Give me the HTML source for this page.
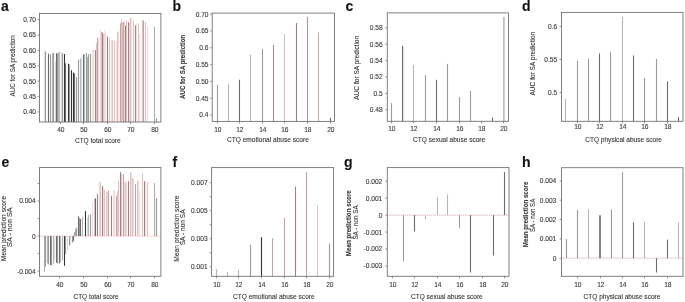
<!DOCTYPE html>
<html><head><meta charset="utf-8"><title>Figure</title>
<style>
html,body{margin:0;padding:0;background:#fff;}
body{width:685px;height:302px;overflow:hidden;}
svg{display:block;will-change:transform;}
text{font-family:"Liberation Sans",sans-serif;stroke:#3a3a3a;stroke-width:0.12px;}
</style></head>
<body>
<svg xmlns="http://www.w3.org/2000/svg" width="685" height="302" viewBox="0 0 685 302">
<rect x="0" y="0" width="685" height="302" fill="#fff"/>
<g>
<text x="0.90" y="11.00" text-anchor="start" font-size="14.0" font-weight="bold" fill="#111">a</text>
<text x="172.60" y="10.90" text-anchor="start" font-size="14.0" font-weight="bold" fill="#111">b</text>
<text x="345.60" y="11.20" text-anchor="start" font-size="14.0" font-weight="bold" fill="#111">c</text>
<text x="521.90" y="11.00" text-anchor="start" font-size="14.0" font-weight="bold" fill="#111">d</text>
<text x="1.60" y="166.70" text-anchor="start" font-size="14.0" font-weight="bold" fill="#111">e</text>
<text x="172.60" y="166.70" text-anchor="start" font-size="14.0" font-weight="bold" fill="#111">f</text>
<text x="344.00" y="167.00" text-anchor="start" font-size="14.0" font-weight="bold" fill="#111">g</text>
<text x="521.90" y="166.70" text-anchor="start" font-size="14.0" font-weight="bold" fill="#111">h</text>
<line x1="44.50" y1="122.00" x2="44.50" y2="49.00" stroke="#f2dcdc" stroke-width="1.1"/>
<line x1="45.50" y1="122.00" x2="45.50" y2="51.50" stroke="#9a9a9a" stroke-width="1.1"/>
<line x1="48.50" y1="122.00" x2="48.50" y2="53.70" stroke="#6a6a6a" stroke-width="1.1"/>
<line x1="50.50" y1="122.00" x2="50.50" y2="54.30" stroke="#9a9a9a" stroke-width="1.1"/>
<line x1="52.50" y1="122.00" x2="52.50" y2="53.30" stroke="#b6b6b6" stroke-width="1.1"/>
<line x1="53.50" y1="122.00" x2="53.50" y2="52.90" stroke="#9a9a9a" stroke-width="1.1"/>
<line x1="55.50" y1="122.00" x2="55.50" y2="61.90" stroke="#dcdcdc" stroke-width="1.1"/>
<line x1="56.50" y1="122.00" x2="56.50" y2="53.00" stroke="#6a6a6a" stroke-width="1.1"/>
<line x1="57.50" y1="122.00" x2="57.50" y2="54.00" stroke="#9a9a9a" stroke-width="1.1"/>
<line x1="58.50" y1="122.00" x2="58.50" y2="52.50" stroke="#b6b6b6" stroke-width="1.1"/>
<line x1="59.50" y1="122.00" x2="59.50" y2="51.70" stroke="#b6b6b6" stroke-width="1.1"/>
<line x1="61.50" y1="122.00" x2="61.50" y2="52.20" stroke="#dcdcdc" stroke-width="1.1"/>
<line x1="62.50" y1="122.00" x2="62.50" y2="53.30" stroke="#9a9a9a" stroke-width="1.1"/>
<line x1="64.50" y1="122.00" x2="64.50" y2="54.00" stroke="#353535" stroke-width="1.1"/>
<line x1="65.50" y1="122.00" x2="65.50" y2="63.20" stroke="#6a6a6a" stroke-width="1.1"/>
<line x1="68.50" y1="122.00" x2="68.50" y2="63.80" stroke="#353535" stroke-width="1.1"/>
<line x1="69.50" y1="122.00" x2="69.50" y2="64.50" stroke="#9a9a9a" stroke-width="1.1"/>
<line x1="71.50" y1="122.00" x2="71.50" y2="70.20" stroke="#353535" stroke-width="1.1"/>
<line x1="73.50" y1="122.00" x2="73.50" y2="72.50" stroke="#353535" stroke-width="1.1"/>
<line x1="74.50" y1="122.00" x2="74.50" y2="73.50" stroke="#6a6a6a" stroke-width="1.1"/>
<line x1="76.50" y1="122.00" x2="76.50" y2="77.10" stroke="#9a9a9a" stroke-width="1.1"/>
<line x1="78.50" y1="122.00" x2="78.50" y2="59.90" stroke="#9a9a9a" stroke-width="1.1"/>
<line x1="80.50" y1="122.00" x2="80.50" y2="58.50" stroke="#b6b6b6" stroke-width="1.1"/>
<line x1="81.50" y1="122.00" x2="81.50" y2="57.20" stroke="#dcdcdc" stroke-width="1.1"/>
<line x1="83.50" y1="122.00" x2="83.50" y2="54.60" stroke="#6a6a6a" stroke-width="1.1"/>
<line x1="84.50" y1="122.00" x2="84.50" y2="53.90" stroke="#b6b6b6" stroke-width="1.1"/>
<line x1="86.50" y1="122.00" x2="86.50" y2="53.00" stroke="#9a9a9a" stroke-width="1.1"/>
<line x1="87.50" y1="122.00" x2="87.50" y2="57.00" stroke="#b6b6b6" stroke-width="1.1"/>
<line x1="88.50" y1="122.00" x2="88.50" y2="54.30" stroke="#9a9a9a" stroke-width="1.1"/>
<line x1="90.50" y1="122.00" x2="90.50" y2="53.90" stroke="#9a9a9a" stroke-width="1.1"/>
<line x1="92.50" y1="122.00" x2="92.50" y2="49.10" stroke="#f2dcdc" stroke-width="1.1"/>
<line x1="93.50" y1="122.00" x2="93.50" y2="49.80" stroke="#f2dcdc" stroke-width="1.1"/>
<line x1="95.50" y1="122.00" x2="95.50" y2="49.90" stroke="#9e8282" stroke-width="1.1"/>
<line x1="96.50" y1="122.00" x2="96.50" y2="43.10" stroke="#e2c2c2" stroke-width="1.1"/>
<line x1="97.50" y1="122.00" x2="97.50" y2="37.60" stroke="#c6a2a2" stroke-width="1.1"/>
<line x1="98.50" y1="122.00" x2="98.50" y2="39.20" stroke="#f2dcdc" stroke-width="1.1"/>
<line x1="100.50" y1="122.00" x2="100.50" y2="29.20" stroke="#f2dcdc" stroke-width="1.1"/>
<line x1="101.50" y1="122.00" x2="101.50" y2="31.90" stroke="#e2c2c2" stroke-width="1.1"/>
<line x1="102.50" y1="122.00" x2="102.50" y2="32.50" stroke="#9e8282" stroke-width="1.1"/>
<line x1="103.50" y1="122.00" x2="103.50" y2="33.90" stroke="#e2c2c2" stroke-width="1.1"/>
<line x1="104.50" y1="122.00" x2="104.50" y2="29.90" stroke="#f2dcdc" stroke-width="1.1"/>
<line x1="105.50" y1="122.00" x2="105.50" y2="32.30" stroke="#f2dcdc" stroke-width="1.1"/>
<line x1="107.50" y1="122.00" x2="107.50" y2="36.50" stroke="#9e8282" stroke-width="1.1"/>
<line x1="109.50" y1="122.00" x2="109.50" y2="37.60" stroke="#e2c2c2" stroke-width="1.1"/>
<line x1="111.50" y1="122.00" x2="111.50" y2="39.80" stroke="#f2dcdc" stroke-width="1.1"/>
<line x1="112.50" y1="122.00" x2="112.50" y2="40.20" stroke="#e2c2c2" stroke-width="1.1"/>
<line x1="114.50" y1="122.00" x2="114.50" y2="40.50" stroke="#e2c2c2" stroke-width="1.1"/>
<line x1="116.50" y1="122.00" x2="116.50" y2="41.20" stroke="#f2dcdc" stroke-width="1.1"/>
<line x1="117.50" y1="122.00" x2="117.50" y2="31.90" stroke="#e2c2c2" stroke-width="1.1"/>
<line x1="118.50" y1="122.00" x2="118.50" y2="31.20" stroke="#f2dcdc" stroke-width="1.1"/>
<line x1="120.50" y1="122.00" x2="120.50" y2="23.30" stroke="#c6a2a2" stroke-width="1.1"/>
<line x1="121.50" y1="122.00" x2="121.50" y2="19.30" stroke="#e2c2c2" stroke-width="1.1"/>
<line x1="122.50" y1="122.00" x2="122.50" y2="22.00" stroke="#e2c2c2" stroke-width="1.1"/>
<line x1="123.50" y1="122.00" x2="123.50" y2="22.00" stroke="#c6a2a2" stroke-width="1.1"/>
<line x1="124.50" y1="122.00" x2="124.50" y2="20.00" stroke="#f2dcdc" stroke-width="1.1"/>
<line x1="125.50" y1="122.00" x2="125.50" y2="25.50" stroke="#9e8282" stroke-width="1.1"/>
<line x1="126.50" y1="122.00" x2="126.50" y2="20.60" stroke="#e2c2c2" stroke-width="1.1"/>
<line x1="128.50" y1="122.00" x2="128.50" y2="22.20" stroke="#9e8282" stroke-width="1.1"/>
<line x1="129.50" y1="122.00" x2="129.50" y2="22.00" stroke="#f2dcdc" stroke-width="1.1"/>
<line x1="130.50" y1="122.00" x2="130.50" y2="17.70" stroke="#e2c2c2" stroke-width="1.1"/>
<line x1="131.50" y1="122.00" x2="131.50" y2="18.60" stroke="#f2dcdc" stroke-width="1.1"/>
<line x1="133.50" y1="122.00" x2="133.50" y2="20.40" stroke="#e2c2c2" stroke-width="1.1"/>
<line x1="135.50" y1="122.00" x2="135.50" y2="25.30" stroke="#9e8282" stroke-width="1.1"/>
<line x1="136.50" y1="122.00" x2="136.50" y2="23.30" stroke="#f2dcdc" stroke-width="1.1"/>
<line x1="138.50" y1="122.00" x2="138.50" y2="23.50" stroke="#e2c2c2" stroke-width="1.1"/>
<line x1="139.50" y1="122.00" x2="139.50" y2="33.90" stroke="#f2dcdc" stroke-width="1.1"/>
<line x1="142.50" y1="122.00" x2="142.50" y2="20.00" stroke="#e2c2c2" stroke-width="1.1"/>
<line x1="143.50" y1="122.00" x2="143.50" y2="20.60" stroke="#b8a8a8" stroke-width="1.1"/>
<line x1="145.50" y1="122.00" x2="145.50" y2="22.00" stroke="#e2c2c2" stroke-width="1.1"/>
<line x1="147.50" y1="122.00" x2="147.50" y2="26.60" stroke="#f2dcdc" stroke-width="1.1"/>
<line x1="154.50" y1="122.00" x2="154.50" y2="26.60" stroke="#b8a8a8" stroke-width="1.1"/>
<line x1="156.50" y1="122.00" x2="156.50" y2="118.00" stroke="#9a9a9a" stroke-width="1.1"/>
<rect x="39.50" y="13.45" width="121.40" height="108.55" fill="none" stroke="#727272" stroke-width="0.9"/>
<line x1="37.60" y1="112.00" x2="39.50" y2="112.00" stroke="#727272" stroke-width="0.8"/>
<text x="36.00" y="114.45" text-anchor="end" font-size="7.1" font-weight="normal" fill="#3a3a3a" textLength="12.84" lengthAdjust="spacingAndGlyphs">0.40</text>
<line x1="37.60" y1="96.60" x2="39.50" y2="96.60" stroke="#727272" stroke-width="0.8"/>
<text x="36.00" y="99.05" text-anchor="end" font-size="7.1" font-weight="normal" fill="#3a3a3a" textLength="12.84" lengthAdjust="spacingAndGlyphs">0.45</text>
<line x1="37.60" y1="81.20" x2="39.50" y2="81.20" stroke="#727272" stroke-width="0.8"/>
<text x="36.00" y="83.65" text-anchor="end" font-size="7.1" font-weight="normal" fill="#3a3a3a" textLength="12.84" lengthAdjust="spacingAndGlyphs">0.50</text>
<line x1="37.60" y1="65.80" x2="39.50" y2="65.80" stroke="#727272" stroke-width="0.8"/>
<text x="36.00" y="68.25" text-anchor="end" font-size="7.1" font-weight="normal" fill="#3a3a3a" textLength="12.84" lengthAdjust="spacingAndGlyphs">0.55</text>
<line x1="37.60" y1="50.40" x2="39.50" y2="50.40" stroke="#727272" stroke-width="0.8"/>
<text x="36.00" y="52.85" text-anchor="end" font-size="7.1" font-weight="normal" fill="#3a3a3a" textLength="12.84" lengthAdjust="spacingAndGlyphs">0.60</text>
<line x1="37.60" y1="35.00" x2="39.50" y2="35.00" stroke="#727272" stroke-width="0.8"/>
<text x="36.00" y="37.45" text-anchor="end" font-size="7.1" font-weight="normal" fill="#3a3a3a" textLength="12.84" lengthAdjust="spacingAndGlyphs">0.65</text>
<line x1="37.60" y1="19.60" x2="39.50" y2="19.60" stroke="#727272" stroke-width="0.8"/>
<text x="36.00" y="22.05" text-anchor="end" font-size="7.1" font-weight="normal" fill="#3a3a3a" textLength="12.84" lengthAdjust="spacingAndGlyphs">0.70</text>
<line x1="60.50" y1="122.00" x2="60.50" y2="124.00" stroke="#727272" stroke-width="0.8"/>
<text x="60.80" y="132.10" text-anchor="middle" font-size="7.1" font-weight="normal" fill="#3a3a3a" textLength="7.34" lengthAdjust="spacingAndGlyphs">40</text>
<line x1="83.50" y1="122.00" x2="83.50" y2="124.00" stroke="#727272" stroke-width="0.8"/>
<text x="83.80" y="132.10" text-anchor="middle" font-size="7.1" font-weight="normal" fill="#3a3a3a" textLength="7.34" lengthAdjust="spacingAndGlyphs">50</text>
<line x1="107.50" y1="122.00" x2="107.50" y2="124.00" stroke="#727272" stroke-width="0.8"/>
<text x="107.80" y="132.10" text-anchor="middle" font-size="7.1" font-weight="normal" fill="#3a3a3a" textLength="7.34" lengthAdjust="spacingAndGlyphs">60</text>
<line x1="130.50" y1="122.00" x2="130.50" y2="124.00" stroke="#727272" stroke-width="0.8"/>
<text x="130.80" y="132.10" text-anchor="middle" font-size="7.1" font-weight="normal" fill="#3a3a3a" textLength="7.34" lengthAdjust="spacingAndGlyphs">70</text>
<line x1="154.50" y1="122.00" x2="154.50" y2="124.00" stroke="#727272" stroke-width="0.8"/>
<text x="154.80" y="132.10" text-anchor="middle" font-size="7.1" font-weight="normal" fill="#3a3a3a" textLength="7.34" lengthAdjust="spacingAndGlyphs">80</text>
<text x="97.80" y="143.00" text-anchor="middle" font-size="6.6" font-weight="normal" fill="#3a3a3a" textLength="45.8" lengthAdjust="spacingAndGlyphs">CTQ total score</text>
<text x="14.70" y="65.85" text-anchor="middle" font-size="6.6" font-weight="normal" fill="#3a3a3a" transform="rotate(-90 14.70 65.85)" textLength="61.3" lengthAdjust="spacingAndGlyphs">AUC for SA prediction</text>
<line x1="217.50" y1="121.40" x2="217.50" y2="85.00" stroke="#9a9a9a" stroke-width="1.1"/>
<line x1="228.50" y1="121.40" x2="228.50" y2="83.80" stroke="#b6b6b6" stroke-width="1.1"/>
<line x1="239.50" y1="121.40" x2="239.50" y2="79.70" stroke="#6a6a6a" stroke-width="1.1"/>
<line x1="250.50" y1="121.40" x2="250.50" y2="54.50" stroke="#b6b6b6" stroke-width="1.1"/>
<line x1="262.50" y1="121.40" x2="262.50" y2="49.00" stroke="#9a9a9a" stroke-width="1.1"/>
<line x1="273.50" y1="121.40" x2="273.50" y2="44.80" stroke="#a88c8c" stroke-width="1.1"/>
<line x1="284.50" y1="121.40" x2="284.50" y2="34.00" stroke="#d4c0bc" stroke-width="1.1"/>
<line x1="296.50" y1="121.40" x2="296.50" y2="23.00" stroke="#9a7e80" stroke-width="1.1"/>
<line x1="307.50" y1="121.40" x2="307.50" y2="17.00" stroke="#b89494" stroke-width="1.1"/>
<line x1="318.50" y1="121.40" x2="318.50" y2="32.30" stroke="#c4aaaa" stroke-width="1.1"/>
<line x1="330.50" y1="121.40" x2="330.50" y2="117.80" stroke="#6a6a6a" stroke-width="1.1"/>
<rect x="212.20" y="13.10" width="122.30" height="108.30" fill="none" stroke="#727272" stroke-width="0.9"/>
<line x1="210.30" y1="115.00" x2="212.20" y2="115.00" stroke="#727272" stroke-width="0.8"/>
<text x="208.50" y="117.45" text-anchor="end" font-size="7.1" font-weight="normal" fill="#3a3a3a" textLength="9.17" lengthAdjust="spacingAndGlyphs">0.4</text>
<line x1="210.30" y1="98.20" x2="212.20" y2="98.20" stroke="#727272" stroke-width="0.8"/>
<text x="208.50" y="100.65" text-anchor="end" font-size="7.1" font-weight="normal" fill="#3a3a3a" textLength="12.84" lengthAdjust="spacingAndGlyphs">0.45</text>
<line x1="210.30" y1="81.40" x2="212.20" y2="81.40" stroke="#727272" stroke-width="0.8"/>
<text x="208.50" y="83.85" text-anchor="end" font-size="7.1" font-weight="normal" fill="#3a3a3a" textLength="12.84" lengthAdjust="spacingAndGlyphs">0.50</text>
<line x1="210.30" y1="64.60" x2="212.20" y2="64.60" stroke="#727272" stroke-width="0.8"/>
<text x="208.50" y="67.05" text-anchor="end" font-size="7.1" font-weight="normal" fill="#3a3a3a" textLength="12.84" lengthAdjust="spacingAndGlyphs">0.55</text>
<line x1="210.30" y1="47.80" x2="212.20" y2="47.80" stroke="#727272" stroke-width="0.8"/>
<text x="208.50" y="50.25" text-anchor="end" font-size="7.1" font-weight="normal" fill="#3a3a3a" textLength="9.17" lengthAdjust="spacingAndGlyphs">0.6</text>
<line x1="210.30" y1="31.00" x2="212.20" y2="31.00" stroke="#727272" stroke-width="0.8"/>
<text x="208.50" y="33.45" text-anchor="end" font-size="7.1" font-weight="normal" fill="#3a3a3a" textLength="12.84" lengthAdjust="spacingAndGlyphs">0.65</text>
<line x1="210.30" y1="14.20" x2="212.20" y2="14.20" stroke="#727272" stroke-width="0.8"/>
<text x="208.50" y="16.65" text-anchor="end" font-size="7.1" font-weight="normal" fill="#3a3a3a" textLength="12.84" lengthAdjust="spacingAndGlyphs">0.70</text>
<line x1="217.50" y1="121.40" x2="217.50" y2="123.40" stroke="#727272" stroke-width="0.8"/>
<text x="217.80" y="131.50" text-anchor="middle" font-size="7.1" font-weight="normal" fill="#3a3a3a" textLength="7.34" lengthAdjust="spacingAndGlyphs">10</text>
<line x1="239.50" y1="121.40" x2="239.50" y2="123.40" stroke="#727272" stroke-width="0.8"/>
<text x="239.80" y="131.50" text-anchor="middle" font-size="7.1" font-weight="normal" fill="#3a3a3a" textLength="7.34" lengthAdjust="spacingAndGlyphs">12</text>
<line x1="262.50" y1="121.40" x2="262.50" y2="123.40" stroke="#727272" stroke-width="0.8"/>
<text x="262.80" y="131.50" text-anchor="middle" font-size="7.1" font-weight="normal" fill="#3a3a3a" textLength="7.34" lengthAdjust="spacingAndGlyphs">14</text>
<line x1="284.50" y1="121.40" x2="284.50" y2="123.40" stroke="#727272" stroke-width="0.8"/>
<text x="284.80" y="131.50" text-anchor="middle" font-size="7.1" font-weight="normal" fill="#3a3a3a" textLength="7.34" lengthAdjust="spacingAndGlyphs">16</text>
<line x1="307.50" y1="121.40" x2="307.50" y2="123.40" stroke="#727272" stroke-width="0.8"/>
<text x="307.80" y="131.50" text-anchor="middle" font-size="7.1" font-weight="normal" fill="#3a3a3a" textLength="7.34" lengthAdjust="spacingAndGlyphs">18</text>
<line x1="330.50" y1="121.40" x2="330.50" y2="123.40" stroke="#727272" stroke-width="0.8"/>
<text x="330.80" y="131.50" text-anchor="middle" font-size="7.1" font-weight="normal" fill="#3a3a3a" textLength="7.34" lengthAdjust="spacingAndGlyphs">20</text>
<text x="267.90" y="142.40" text-anchor="middle" font-size="6.6" font-weight="normal" fill="#3a3a3a" textLength="81.80000000000001" lengthAdjust="spacingAndGlyphs">CTQ emotional abuse score</text>
<text x="185.30" y="66.85" text-anchor="middle" font-size="6.6" font-weight="bold" fill="#3a3a3a" transform="rotate(-90 185.30 66.85)" textLength="64.10000000000001" lengthAdjust="spacingAndGlyphs">AUC for SA prediction</text>
<line x1="391.50" y1="121.30" x2="391.50" y2="103.10" stroke="#9a9a9a" stroke-width="1.1"/>
<line x1="402.60" y1="121.30" x2="402.60" y2="46.00" stroke="#6a6a6a" stroke-width="1.2"/>
<line x1="413.50" y1="121.30" x2="413.50" y2="64.90" stroke="#b6b6b6" stroke-width="1.1"/>
<line x1="425.50" y1="121.30" x2="425.50" y2="75.20" stroke="#9a9a9a" stroke-width="1.1"/>
<line x1="436.50" y1="121.30" x2="436.50" y2="79.80" stroke="#6a6a6a" stroke-width="1.1"/>
<line x1="447.50" y1="121.30" x2="447.50" y2="63.90" stroke="#9a9a9a" stroke-width="1.1"/>
<line x1="459.50" y1="121.30" x2="459.50" y2="97.10" stroke="#9a9a9a" stroke-width="1.1"/>
<line x1="470.50" y1="121.30" x2="470.50" y2="90.80" stroke="#9a9a9a" stroke-width="1.1"/>
<line x1="492.50" y1="121.30" x2="492.50" y2="117.50" stroke="#6a6a6a" stroke-width="1.1"/>
<line x1="503.90" y1="121.30" x2="503.90" y2="17.00" stroke="#b6b6b6" stroke-width="1.6"/>
<rect x="387.30" y="12.90" width="121.20" height="108.40" fill="none" stroke="#727272" stroke-width="0.9"/>
<line x1="385.40" y1="109.80" x2="387.30" y2="109.80" stroke="#727272" stroke-width="0.8"/>
<text x="382.70" y="112.25" text-anchor="end" font-size="7.1" font-weight="normal" fill="#3a3a3a" textLength="12.84" lengthAdjust="spacingAndGlyphs">0.48</text>
<line x1="385.40" y1="93.40" x2="387.30" y2="93.40" stroke="#727272" stroke-width="0.8"/>
<text x="382.70" y="95.85" text-anchor="end" font-size="7.1" font-weight="normal" fill="#3a3a3a" textLength="9.17" lengthAdjust="spacingAndGlyphs">0.5</text>
<line x1="385.40" y1="77.00" x2="387.30" y2="77.00" stroke="#727272" stroke-width="0.8"/>
<text x="382.70" y="79.45" text-anchor="end" font-size="7.1" font-weight="normal" fill="#3a3a3a" textLength="12.84" lengthAdjust="spacingAndGlyphs">0.52</text>
<line x1="385.40" y1="60.60" x2="387.30" y2="60.60" stroke="#727272" stroke-width="0.8"/>
<text x="382.70" y="63.05" text-anchor="end" font-size="7.1" font-weight="normal" fill="#3a3a3a" textLength="12.84" lengthAdjust="spacingAndGlyphs">0.54</text>
<line x1="385.40" y1="44.20" x2="387.30" y2="44.20" stroke="#727272" stroke-width="0.8"/>
<text x="382.70" y="46.65" text-anchor="end" font-size="7.1" font-weight="normal" fill="#3a3a3a" textLength="12.84" lengthAdjust="spacingAndGlyphs">0.56</text>
<line x1="385.40" y1="27.80" x2="387.30" y2="27.80" stroke="#727272" stroke-width="0.8"/>
<text x="382.70" y="30.25" text-anchor="end" font-size="7.1" font-weight="normal" fill="#3a3a3a" textLength="12.84" lengthAdjust="spacingAndGlyphs">0.58</text>
<line x1="391.50" y1="121.30" x2="391.50" y2="123.30" stroke="#727272" stroke-width="0.8"/>
<text x="391.80" y="131.40" text-anchor="middle" font-size="7.1" font-weight="normal" fill="#3a3a3a" textLength="7.34" lengthAdjust="spacingAndGlyphs">10</text>
<line x1="413.50" y1="121.30" x2="413.50" y2="123.30" stroke="#727272" stroke-width="0.8"/>
<text x="413.80" y="131.40" text-anchor="middle" font-size="7.1" font-weight="normal" fill="#3a3a3a" textLength="7.34" lengthAdjust="spacingAndGlyphs">12</text>
<line x1="436.50" y1="121.30" x2="436.50" y2="123.30" stroke="#727272" stroke-width="0.8"/>
<text x="436.80" y="131.40" text-anchor="middle" font-size="7.1" font-weight="normal" fill="#3a3a3a" textLength="7.34" lengthAdjust="spacingAndGlyphs">14</text>
<line x1="459.50" y1="121.30" x2="459.50" y2="123.30" stroke="#727272" stroke-width="0.8"/>
<text x="459.80" y="131.40" text-anchor="middle" font-size="7.1" font-weight="normal" fill="#3a3a3a" textLength="7.34" lengthAdjust="spacingAndGlyphs">16</text>
<line x1="481.50" y1="121.30" x2="481.50" y2="123.30" stroke="#727272" stroke-width="0.8"/>
<text x="481.80" y="131.40" text-anchor="middle" font-size="7.1" font-weight="normal" fill="#3a3a3a" textLength="7.34" lengthAdjust="spacingAndGlyphs">18</text>
<line x1="503.50" y1="121.30" x2="503.50" y2="123.30" stroke="#727272" stroke-width="0.8"/>
<text x="503.80" y="131.40" text-anchor="middle" font-size="7.1" font-weight="normal" fill="#3a3a3a" textLength="7.34" lengthAdjust="spacingAndGlyphs">20</text>
<text x="449.15" y="142.30" text-anchor="middle" font-size="6.6" font-weight="normal" fill="#3a3a3a" textLength="72.09999999999997" lengthAdjust="spacingAndGlyphs">CTQ sexual abuse score</text>
<text x="358.60" y="67.80" text-anchor="middle" font-size="6.6" font-weight="normal" fill="#3a3a3a" transform="rotate(-90 358.60 67.80)" textLength="64.0" lengthAdjust="spacingAndGlyphs">AUC for SA prediction</text>
<line x1="565.50" y1="121.30" x2="565.50" y2="98.90" stroke="#b6b6b6" stroke-width="1.1"/>
<line x1="577.50" y1="121.30" x2="577.50" y2="60.60" stroke="#9a9a9a" stroke-width="1.1"/>
<line x1="588.50" y1="121.30" x2="588.50" y2="58.70" stroke="#9a9a9a" stroke-width="1.1"/>
<line x1="599.50" y1="121.30" x2="599.50" y2="53.50" stroke="#6a6a6a" stroke-width="1.1"/>
<line x1="610.50" y1="121.30" x2="610.50" y2="51.80" stroke="#9a9a9a" stroke-width="1.1"/>
<line x1="622.50" y1="121.30" x2="622.50" y2="16.90" stroke="#b6b6b6" stroke-width="1.1"/>
<line x1="633.50" y1="121.30" x2="633.50" y2="55.40" stroke="#6a6a6a" stroke-width="1.1"/>
<line x1="644.50" y1="121.30" x2="644.50" y2="78.20" stroke="#9a9a9a" stroke-width="1.1"/>
<line x1="656.50" y1="121.30" x2="656.50" y2="58.90" stroke="#9a9a9a" stroke-width="1.1"/>
<line x1="667.50" y1="121.30" x2="667.50" y2="81.30" stroke="#6a6a6a" stroke-width="1.1"/>
<line x1="678.50" y1="121.30" x2="678.50" y2="117.00" stroke="#6a6a6a" stroke-width="1.1"/>
<rect x="561.50" y="12.40" width="121.50" height="108.90" fill="none" stroke="#727272" stroke-width="0.9"/>
<line x1="559.60" y1="92.40" x2="561.50" y2="92.40" stroke="#727272" stroke-width="0.8"/>
<text x="557.10" y="94.85" text-anchor="end" font-size="7.1" font-weight="normal" fill="#3a3a3a" textLength="9.17" lengthAdjust="spacingAndGlyphs">0.5</text>
<line x1="559.60" y1="59.50" x2="561.50" y2="59.50" stroke="#727272" stroke-width="0.8"/>
<text x="557.10" y="61.95" text-anchor="end" font-size="7.1" font-weight="normal" fill="#3a3a3a" textLength="12.84" lengthAdjust="spacingAndGlyphs">0.55</text>
<line x1="559.60" y1="26.60" x2="561.50" y2="26.60" stroke="#727272" stroke-width="0.8"/>
<text x="557.10" y="29.05" text-anchor="end" font-size="7.1" font-weight="normal" fill="#3a3a3a" textLength="9.17" lengthAdjust="spacingAndGlyphs">0.6</text>
<line x1="577.50" y1="121.30" x2="577.50" y2="123.30" stroke="#727272" stroke-width="0.8"/>
<text x="577.80" y="129.40" text-anchor="middle" font-size="7.1" font-weight="normal" fill="#3a3a3a" textLength="7.34" lengthAdjust="spacingAndGlyphs">10</text>
<line x1="599.50" y1="121.30" x2="599.50" y2="123.30" stroke="#727272" stroke-width="0.8"/>
<text x="599.80" y="129.40" text-anchor="middle" font-size="7.1" font-weight="normal" fill="#3a3a3a" textLength="7.34" lengthAdjust="spacingAndGlyphs">12</text>
<line x1="622.50" y1="121.30" x2="622.50" y2="123.30" stroke="#727272" stroke-width="0.8"/>
<text x="622.80" y="129.40" text-anchor="middle" font-size="7.1" font-weight="normal" fill="#3a3a3a" textLength="7.34" lengthAdjust="spacingAndGlyphs">14</text>
<line x1="644.50" y1="121.30" x2="644.50" y2="123.30" stroke="#727272" stroke-width="0.8"/>
<text x="644.80" y="129.40" text-anchor="middle" font-size="7.1" font-weight="normal" fill="#3a3a3a" textLength="7.34" lengthAdjust="spacingAndGlyphs">16</text>
<line x1="667.50" y1="121.30" x2="667.50" y2="123.30" stroke="#727272" stroke-width="0.8"/>
<text x="667.80" y="129.40" text-anchor="middle" font-size="7.1" font-weight="normal" fill="#3a3a3a" textLength="7.34" lengthAdjust="spacingAndGlyphs">18</text>
<text x="623.60" y="142.30" text-anchor="middle" font-size="6.6" font-weight="normal" fill="#3a3a3a" textLength="76.79999999999995" lengthAdjust="spacingAndGlyphs">CTQ physical abuse score</text>
<text x="534.70" y="63.65" text-anchor="middle" font-size="6.6" font-weight="normal" fill="#3a3a3a" transform="rotate(-90 534.70 63.65)" textLength="63.7" lengthAdjust="spacingAndGlyphs">AUC for SA prediction</text>
<line x1="39.50" y1="236.10" x2="160.90" y2="236.10" stroke="#f0cccc" stroke-width="0.8"/>
<line x1="44.50" y1="236.10" x2="44.50" y2="271.70" stroke="#b8a8a8" stroke-width="1.1"/>
<line x1="45.50" y1="236.10" x2="45.50" y2="266.50" stroke="#9a9a9a" stroke-width="1.1"/>
<line x1="47.50" y1="236.10" x2="47.50" y2="263.50" stroke="#b6b6b6" stroke-width="1.1"/>
<line x1="48.50" y1="236.10" x2="48.50" y2="264.30" stroke="#9a9a9a" stroke-width="1.1"/>
<line x1="50.50" y1="236.10" x2="50.50" y2="265.00" stroke="#6a6a6a" stroke-width="1.1"/>
<line x1="51.50" y1="236.10" x2="51.50" y2="265.30" stroke="#9a9a9a" stroke-width="1.1"/>
<line x1="53.50" y1="236.10" x2="53.50" y2="264.30" stroke="#b6b6b6" stroke-width="1.1"/>
<line x1="54.50" y1="236.10" x2="54.50" y2="259.80" stroke="#dcdcdc" stroke-width="1.1"/>
<line x1="56.50" y1="236.10" x2="56.50" y2="262.80" stroke="#6a6a6a" stroke-width="1.1"/>
<line x1="57.50" y1="236.10" x2="57.50" y2="263.50" stroke="#9a9a9a" stroke-width="1.1"/>
<line x1="59.50" y1="236.10" x2="59.50" y2="263.50" stroke="#6a6a6a" stroke-width="1.1"/>
<line x1="60.50" y1="236.10" x2="60.50" y2="262.00" stroke="#b6b6b6" stroke-width="1.1"/>
<line x1="62.50" y1="236.10" x2="62.50" y2="260.60" stroke="#b6b6b6" stroke-width="1.1"/>
<line x1="64.50" y1="236.10" x2="64.50" y2="265.80" stroke="#353535" stroke-width="1.1"/>
<line x1="65.50" y1="236.10" x2="65.50" y2="253.80" stroke="#9a9a9a" stroke-width="1.1"/>
<line x1="67.50" y1="236.10" x2="67.50" y2="250.90" stroke="#dcdcdc" stroke-width="1.1"/>
<line x1="69.50" y1="236.10" x2="69.50" y2="245.60" stroke="#9a9a9a" stroke-width="1.1"/>
<line x1="70.50" y1="236.10" x2="70.50" y2="244.90" stroke="#dcdcdc" stroke-width="1.1"/>
<line x1="72.50" y1="236.10" x2="72.50" y2="242.70" stroke="#9a9a9a" stroke-width="1.1"/>
<line x1="73.50" y1="236.10" x2="73.50" y2="241.20" stroke="#6a6a6a" stroke-width="1.1"/>
<line x1="74.50" y1="236.10" x2="74.50" y2="232.20" stroke="#9a9a9a" stroke-width="1.1"/>
<line x1="75.50" y1="236.10" x2="75.50" y2="228.90" stroke="#b6b6b6" stroke-width="1.1"/>
<line x1="76.50" y1="236.10" x2="76.50" y2="227.70" stroke="#9a9a9a" stroke-width="1.1"/>
<line x1="78.50" y1="236.10" x2="78.50" y2="216.20" stroke="#6a6a6a" stroke-width="1.1"/>
<line x1="79.50" y1="236.10" x2="79.50" y2="218.10" stroke="#9a9a9a" stroke-width="1.1"/>
<line x1="80.50" y1="236.10" x2="80.50" y2="219.00" stroke="#6a6a6a" stroke-width="1.1"/>
<line x1="82.50" y1="236.10" x2="82.50" y2="216.80" stroke="#b6b6b6" stroke-width="1.1"/>
<line x1="85.50" y1="236.10" x2="85.50" y2="211.20" stroke="#353535" stroke-width="1.1"/>
<line x1="87.50" y1="236.10" x2="87.50" y2="217.30" stroke="#dcdcdc" stroke-width="1.1"/>
<line x1="88.50" y1="236.10" x2="88.50" y2="214.80" stroke="#b6b6b6" stroke-width="1.1"/>
<line x1="90.50" y1="236.10" x2="90.50" y2="214.50" stroke="#9a9a9a" stroke-width="1.1"/>
<line x1="92.50" y1="236.10" x2="92.50" y2="202.40" stroke="#f2dcdc" stroke-width="1.1"/>
<line x1="94.50" y1="236.10" x2="94.50" y2="198.30" stroke="#e2c2c2" stroke-width="1.1"/>
<line x1="95.50" y1="236.10" x2="95.50" y2="198.50" stroke="#6a6a6a" stroke-width="1.1"/>
<line x1="97.50" y1="236.10" x2="97.50" y2="193.80" stroke="#9e8282" stroke-width="1.1"/>
<line x1="99.50" y1="236.10" x2="99.50" y2="181.20" stroke="#f2dcdc" stroke-width="1.1"/>
<line x1="100.50" y1="236.10" x2="100.50" y2="182.60" stroke="#e2c2c2" stroke-width="1.1"/>
<line x1="102.50" y1="236.10" x2="102.50" y2="185.90" stroke="#9e8282" stroke-width="1.1"/>
<line x1="103.50" y1="236.10" x2="103.50" y2="187.90" stroke="#f2dcdc" stroke-width="1.1"/>
<line x1="104.50" y1="236.10" x2="104.50" y2="189.90" stroke="#e2c2c2" stroke-width="1.1"/>
<line x1="106.50" y1="236.10" x2="106.50" y2="191.80" stroke="#e2c2c2" stroke-width="1.1"/>
<line x1="107.50" y1="236.10" x2="107.50" y2="192.10" stroke="#f2dcdc" stroke-width="1.1"/>
<line x1="108.50" y1="236.10" x2="108.50" y2="190.50" stroke="#b8a8a8" stroke-width="1.1"/>
<line x1="111.50" y1="236.10" x2="111.50" y2="195.80" stroke="#9e8282" stroke-width="1.1"/>
<line x1="113.50" y1="236.10" x2="113.50" y2="189.90" stroke="#f2dcdc" stroke-width="1.1"/>
<line x1="114.50" y1="236.10" x2="114.50" y2="190.50" stroke="#f2dcdc" stroke-width="1.1"/>
<line x1="116.50" y1="236.10" x2="116.50" y2="195.80" stroke="#c6a2a2" stroke-width="1.1"/>
<line x1="117.50" y1="236.10" x2="117.50" y2="191.20" stroke="#e2c2c2" stroke-width="1.1"/>
<line x1="118.50" y1="236.10" x2="118.50" y2="180.60" stroke="#e2c2c2" stroke-width="1.1"/>
<line x1="120.50" y1="236.10" x2="120.50" y2="172.00" stroke="#9e8282" stroke-width="1.1"/>
<line x1="121.50" y1="236.10" x2="121.50" y2="174.00" stroke="#e2c2c2" stroke-width="1.1"/>
<line x1="123.50" y1="236.10" x2="123.50" y2="174.00" stroke="#c6a2a2" stroke-width="1.1"/>
<line x1="124.50" y1="236.10" x2="124.50" y2="181.90" stroke="#f2dcdc" stroke-width="1.1"/>
<line x1="125.50" y1="236.10" x2="125.50" y2="182.60" stroke="#e2c2c2" stroke-width="1.1"/>
<line x1="126.50" y1="236.10" x2="126.50" y2="180.60" stroke="#f2dcdc" stroke-width="1.1"/>
<line x1="128.50" y1="236.10" x2="128.50" y2="181.20" stroke="#9e8282" stroke-width="1.1"/>
<line x1="130.50" y1="236.10" x2="130.50" y2="172.00" stroke="#e2c2c2" stroke-width="1.1"/>
<line x1="131.50" y1="236.10" x2="131.50" y2="173.30" stroke="#f2dcdc" stroke-width="1.1"/>
<line x1="132.50" y1="236.10" x2="132.50" y2="177.90" stroke="#e2c2c2" stroke-width="1.1"/>
<line x1="133.50" y1="236.10" x2="133.50" y2="179.30" stroke="#f2dcdc" stroke-width="1.1"/>
<line x1="135.50" y1="236.10" x2="135.50" y2="183.90" stroke="#c6a2a2" stroke-width="1.1"/>
<line x1="137.50" y1="236.10" x2="137.50" y2="180.60" stroke="#e2c2c2" stroke-width="1.1"/>
<line x1="138.50" y1="236.10" x2="138.50" y2="180.60" stroke="#f2dcdc" stroke-width="1.1"/>
<line x1="139.50" y1="236.10" x2="139.50" y2="190.50" stroke="#f2dcdc" stroke-width="1.1"/>
<line x1="142.50" y1="236.10" x2="142.50" y2="173.30" stroke="#e2c2c2" stroke-width="1.1"/>
<line x1="144.50" y1="236.10" x2="144.50" y2="181.20" stroke="#9e8282" stroke-width="1.1"/>
<line x1="145.50" y1="236.10" x2="145.50" y2="181.50" stroke="#f2dcdc" stroke-width="1.1"/>
<line x1="147.50" y1="236.10" x2="147.50" y2="181.90" stroke="#e2c2c2" stroke-width="1.1"/>
<line x1="154.50" y1="236.10" x2="154.50" y2="183.00" stroke="#b8a8a8" stroke-width="1.1"/>
<line x1="156.50" y1="236.10" x2="156.50" y2="198.20" stroke="#9a9a9a" stroke-width="1.1"/>
<rect x="39.50" y="167.55" width="121.40" height="108.75" fill="none" stroke="#727272" stroke-width="0.9"/>
<line x1="37.60" y1="271.20" x2="39.50" y2="271.20" stroke="#727272" stroke-width="0.8"/>
<text x="35.70" y="273.65" text-anchor="end" font-size="7.1" font-weight="normal" fill="#3a3a3a" textLength="18.71" lengthAdjust="spacingAndGlyphs">-0.004</text>
<line x1="37.60" y1="253.65" x2="39.50" y2="253.65" stroke="#727272" stroke-width="0.8"/>
<line x1="37.60" y1="236.10" x2="39.50" y2="236.10" stroke="#727272" stroke-width="0.8"/>
<text x="35.70" y="238.55" text-anchor="end" font-size="7.1" font-weight="normal" fill="#3a3a3a" textLength="3.67" lengthAdjust="spacingAndGlyphs">0</text>
<line x1="37.60" y1="218.55" x2="39.50" y2="218.55" stroke="#727272" stroke-width="0.8"/>
<line x1="37.60" y1="201.00" x2="39.50" y2="201.00" stroke="#727272" stroke-width="0.8"/>
<text x="35.70" y="203.45" text-anchor="end" font-size="7.1" font-weight="normal" fill="#3a3a3a" textLength="16.51" lengthAdjust="spacingAndGlyphs">0.004</text>
<line x1="37.60" y1="183.45" x2="39.50" y2="183.45" stroke="#727272" stroke-width="0.8"/>
<line x1="59.50" y1="276.30" x2="59.50" y2="278.30" stroke="#727272" stroke-width="0.8"/>
<text x="59.80" y="287.20" text-anchor="middle" font-size="7.1" font-weight="normal" fill="#3a3a3a" textLength="7.34" lengthAdjust="spacingAndGlyphs">40</text>
<line x1="83.50" y1="276.30" x2="83.50" y2="278.30" stroke="#727272" stroke-width="0.8"/>
<text x="83.80" y="287.20" text-anchor="middle" font-size="7.1" font-weight="normal" fill="#3a3a3a" textLength="7.34" lengthAdjust="spacingAndGlyphs">50</text>
<line x1="107.50" y1="276.30" x2="107.50" y2="278.30" stroke="#727272" stroke-width="0.8"/>
<text x="107.80" y="287.20" text-anchor="middle" font-size="7.1" font-weight="normal" fill="#3a3a3a" textLength="7.34" lengthAdjust="spacingAndGlyphs">60</text>
<line x1="130.50" y1="276.30" x2="130.50" y2="278.30" stroke="#727272" stroke-width="0.8"/>
<text x="130.80" y="287.20" text-anchor="middle" font-size="7.1" font-weight="normal" fill="#3a3a3a" textLength="7.34" lengthAdjust="spacingAndGlyphs">70</text>
<line x1="154.50" y1="276.30" x2="154.50" y2="278.30" stroke="#727272" stroke-width="0.8"/>
<text x="154.80" y="287.20" text-anchor="middle" font-size="7.1" font-weight="normal" fill="#3a3a3a" textLength="7.34" lengthAdjust="spacingAndGlyphs">80</text>
<text x="96.10" y="298.90" text-anchor="middle" font-size="6.6" font-weight="normal" fill="#3a3a3a" textLength="45.2" lengthAdjust="spacingAndGlyphs">CTQ total score</text>
<text x="6.10" y="228.75" text-anchor="middle" font-size="6.6" font-weight="normal" fill="#3a3a3a" transform="rotate(-90 6.10 228.75)" textLength="65.10000000000002" lengthAdjust="spacingAndGlyphs">Mean prediction score</text>
<text x="12.50" y="227.15" text-anchor="middle" font-size="6.6" font-weight="normal" fill="#3a3a3a" transform="rotate(-90 12.50 227.15)" textLength="39.5" lengthAdjust="spacingAndGlyphs">SA - non SA</text>
<line x1="216.50" y1="276.30" x2="216.50" y2="269.00" stroke="#b6b6b6" stroke-width="1.1"/>
<line x1="227.50" y1="276.30" x2="227.50" y2="272.10" stroke="#b6b6b6" stroke-width="1.1"/>
<line x1="238.50" y1="276.30" x2="238.50" y2="269.80" stroke="#b6b6b6" stroke-width="1.1"/>
<line x1="250.50" y1="276.30" x2="250.50" y2="244.80" stroke="#9a9a9a" stroke-width="1.1"/>
<line x1="261.50" y1="276.30" x2="261.50" y2="237.20" stroke="#353535" stroke-width="1.1"/>
<line x1="272.50" y1="276.30" x2="272.50" y2="238.10" stroke="#c6a2a2" stroke-width="1.1"/>
<line x1="284.50" y1="276.30" x2="284.50" y2="217.60" stroke="#c6a2a2" stroke-width="1.1"/>
<line x1="295.50" y1="276.30" x2="295.50" y2="186.50" stroke="#9e8282" stroke-width="1.1"/>
<line x1="306.50" y1="276.30" x2="306.50" y2="172.10" stroke="#c6a2a2" stroke-width="1.1"/>
<line x1="317.50" y1="276.30" x2="317.50" y2="205.20" stroke="#e2c2c2" stroke-width="1.1"/>
<line x1="329.50" y1="276.30" x2="329.50" y2="243.60" stroke="#9a9a9a" stroke-width="1.1"/>
<rect x="211.60" y="167.60" width="122.00" height="108.70" fill="none" stroke="#727272" stroke-width="0.9"/>
<line x1="209.70" y1="266.80" x2="211.60" y2="266.80" stroke="#727272" stroke-width="0.8"/>
<text x="207.60" y="269.25" text-anchor="end" font-size="7.1" font-weight="normal" fill="#3a3a3a" textLength="16.51" lengthAdjust="spacingAndGlyphs">0.001</text>
<line x1="209.70" y1="252.78" x2="211.60" y2="252.78" stroke="#727272" stroke-width="0.8"/>
<line x1="209.70" y1="238.76" x2="211.60" y2="238.76" stroke="#727272" stroke-width="0.8"/>
<text x="207.60" y="241.21" text-anchor="end" font-size="7.1" font-weight="normal" fill="#3a3a3a" textLength="16.51" lengthAdjust="spacingAndGlyphs">0.003</text>
<line x1="209.70" y1="224.74" x2="211.60" y2="224.74" stroke="#727272" stroke-width="0.8"/>
<line x1="209.70" y1="210.72" x2="211.60" y2="210.72" stroke="#727272" stroke-width="0.8"/>
<text x="207.60" y="213.17" text-anchor="end" font-size="7.1" font-weight="normal" fill="#3a3a3a" textLength="16.51" lengthAdjust="spacingAndGlyphs">0.005</text>
<line x1="209.70" y1="196.70" x2="211.60" y2="196.70" stroke="#727272" stroke-width="0.8"/>
<line x1="209.70" y1="182.68" x2="211.60" y2="182.68" stroke="#727272" stroke-width="0.8"/>
<text x="207.60" y="185.13" text-anchor="end" font-size="7.1" font-weight="normal" fill="#3a3a3a" textLength="16.51" lengthAdjust="spacingAndGlyphs">0.007</text>
<line x1="216.50" y1="276.30" x2="216.50" y2="278.30" stroke="#727272" stroke-width="0.8"/>
<text x="216.80" y="287.20" text-anchor="middle" font-size="7.1" font-weight="normal" fill="#3a3a3a" textLength="7.34" lengthAdjust="spacingAndGlyphs">10</text>
<line x1="238.50" y1="276.30" x2="238.50" y2="278.30" stroke="#727272" stroke-width="0.8"/>
<text x="238.80" y="287.20" text-anchor="middle" font-size="7.1" font-weight="normal" fill="#3a3a3a" textLength="7.34" lengthAdjust="spacingAndGlyphs">12</text>
<line x1="261.50" y1="276.30" x2="261.50" y2="278.30" stroke="#727272" stroke-width="0.8"/>
<text x="261.80" y="287.20" text-anchor="middle" font-size="7.1" font-weight="normal" fill="#3a3a3a" textLength="7.34" lengthAdjust="spacingAndGlyphs">14</text>
<line x1="284.50" y1="276.30" x2="284.50" y2="278.30" stroke="#727272" stroke-width="0.8"/>
<text x="284.80" y="287.20" text-anchor="middle" font-size="7.1" font-weight="normal" fill="#3a3a3a" textLength="7.34" lengthAdjust="spacingAndGlyphs">16</text>
<line x1="306.50" y1="276.30" x2="306.50" y2="278.30" stroke="#727272" stroke-width="0.8"/>
<text x="306.80" y="287.20" text-anchor="middle" font-size="7.1" font-weight="normal" fill="#3a3a3a" textLength="7.34" lengthAdjust="spacingAndGlyphs">18</text>
<line x1="329.50" y1="276.30" x2="329.50" y2="278.30" stroke="#727272" stroke-width="0.8"/>
<text x="329.80" y="287.20" text-anchor="middle" font-size="7.1" font-weight="normal" fill="#3a3a3a" textLength="7.34" lengthAdjust="spacingAndGlyphs">20</text>
<text x="273.80" y="298.90" text-anchor="middle" font-size="6.6" font-weight="normal" fill="#3a3a3a" textLength="81.60000000000002" lengthAdjust="spacingAndGlyphs">CTQ emotional abuse score</text>
<text x="178.70" y="228.65" text-anchor="middle" font-size="6.6" font-weight="normal" fill="#3a3a3a" transform="rotate(-90 178.70 228.65)" textLength="66.30000000000001" lengthAdjust="spacingAndGlyphs">Mean prediction score</text>
<text x="184.60" y="227.35" text-anchor="middle" font-size="6.6" font-weight="normal" fill="#3a3a3a" transform="rotate(-90 184.60 227.35)" textLength="35.900000000000006" lengthAdjust="spacingAndGlyphs">SA - non SA</text>
<line x1="387.30" y1="215.10" x2="509.00" y2="215.10" stroke="#d89090" stroke-width="0.9" stroke-dasharray="1 1"/>
<line x1="403.50" y1="215.10" x2="403.50" y2="261.30" stroke="#9a9a9a" stroke-width="1.1"/>
<line x1="414.50" y1="215.10" x2="414.50" y2="231.60" stroke="#6a6a6a" stroke-width="1.1"/>
<line x1="425.50" y1="215.10" x2="425.50" y2="219.20" stroke="#b6b6b6" stroke-width="1.1"/>
<line x1="437.50" y1="215.10" x2="437.50" y2="197.40" stroke="#b6b6b6" stroke-width="1.1"/>
<line x1="447.50" y1="215.10" x2="447.50" y2="194.50" stroke="#b6b6b6" stroke-width="1.1"/>
<line x1="459.50" y1="215.10" x2="459.50" y2="227.80" stroke="#9a9a9a" stroke-width="1.1"/>
<line x1="470.50" y1="215.10" x2="470.50" y2="272.50" stroke="#6a6a6a" stroke-width="1.1"/>
<line x1="493.50" y1="215.10" x2="493.50" y2="255.60" stroke="#6a6a6a" stroke-width="1.1"/>
<line x1="504.50" y1="215.10" x2="504.50" y2="172.10" stroke="#6a6a6a" stroke-width="1.1"/>
<rect x="387.30" y="167.60" width="121.70" height="108.70" fill="none" stroke="#727272" stroke-width="0.9"/>
<line x1="385.40" y1="265.95" x2="387.30" y2="265.95" stroke="#727272" stroke-width="0.8"/>
<text x="382.30" y="268.40" text-anchor="end" font-size="7.1" font-weight="normal" fill="#3a3a3a" textLength="18.71" lengthAdjust="spacingAndGlyphs">-0.003</text>
<line x1="385.40" y1="249.00" x2="387.30" y2="249.00" stroke="#727272" stroke-width="0.8"/>
<text x="382.30" y="251.45" text-anchor="end" font-size="7.1" font-weight="normal" fill="#3a3a3a" textLength="18.71" lengthAdjust="spacingAndGlyphs">-0.002</text>
<line x1="385.40" y1="232.05" x2="387.30" y2="232.05" stroke="#727272" stroke-width="0.8"/>
<text x="382.30" y="234.50" text-anchor="end" font-size="7.1" font-weight="normal" fill="#3a3a3a" textLength="18.71" lengthAdjust="spacingAndGlyphs">-0.001</text>
<line x1="385.40" y1="215.10" x2="387.30" y2="215.10" stroke="#727272" stroke-width="0.8"/>
<text x="382.30" y="217.55" text-anchor="end" font-size="7.1" font-weight="normal" fill="#3a3a3a" textLength="3.67" lengthAdjust="spacingAndGlyphs">0</text>
<line x1="385.40" y1="198.15" x2="387.30" y2="198.15" stroke="#727272" stroke-width="0.8"/>
<text x="382.30" y="200.60" text-anchor="end" font-size="7.1" font-weight="normal" fill="#3a3a3a" textLength="16.51" lengthAdjust="spacingAndGlyphs">0.001</text>
<line x1="385.40" y1="181.20" x2="387.30" y2="181.20" stroke="#727272" stroke-width="0.8"/>
<text x="382.30" y="183.65" text-anchor="end" font-size="7.1" font-weight="normal" fill="#3a3a3a" textLength="16.51" lengthAdjust="spacingAndGlyphs">0.002</text>
<line x1="392.50" y1="276.30" x2="392.50" y2="278.30" stroke="#727272" stroke-width="0.8"/>
<text x="392.80" y="287.20" text-anchor="middle" font-size="7.1" font-weight="normal" fill="#3a3a3a" textLength="7.34" lengthAdjust="spacingAndGlyphs">10</text>
<line x1="414.50" y1="276.30" x2="414.50" y2="278.30" stroke="#727272" stroke-width="0.8"/>
<text x="414.80" y="287.20" text-anchor="middle" font-size="7.1" font-weight="normal" fill="#3a3a3a" textLength="7.34" lengthAdjust="spacingAndGlyphs">12</text>
<line x1="437.50" y1="276.30" x2="437.50" y2="278.30" stroke="#727272" stroke-width="0.8"/>
<text x="437.80" y="287.20" text-anchor="middle" font-size="7.1" font-weight="normal" fill="#3a3a3a" textLength="7.34" lengthAdjust="spacingAndGlyphs">14</text>
<line x1="459.50" y1="276.30" x2="459.50" y2="278.30" stroke="#727272" stroke-width="0.8"/>
<text x="459.80" y="287.20" text-anchor="middle" font-size="7.1" font-weight="normal" fill="#3a3a3a" textLength="7.34" lengthAdjust="spacingAndGlyphs">16</text>
<line x1="482.50" y1="276.30" x2="482.50" y2="278.30" stroke="#727272" stroke-width="0.8"/>
<text x="482.80" y="287.20" text-anchor="middle" font-size="7.1" font-weight="normal" fill="#3a3a3a" textLength="7.34" lengthAdjust="spacingAndGlyphs">18</text>
<line x1="504.50" y1="276.30" x2="504.50" y2="278.30" stroke="#727272" stroke-width="0.8"/>
<text x="504.80" y="287.20" text-anchor="middle" font-size="7.1" font-weight="normal" fill="#3a3a3a" textLength="7.34" lengthAdjust="spacingAndGlyphs">20</text>
<text x="446.85" y="298.90" text-anchor="middle" font-size="6.6" font-weight="normal" fill="#3a3a3a" textLength="71.69999999999999" lengthAdjust="spacingAndGlyphs">CTQ sexual abuse score</text>
<text x="351.10" y="223.20" text-anchor="middle" font-size="6.6" font-weight="bold" fill="#3a3a3a" transform="rotate(-90 351.10 223.20)" textLength="66.0" lengthAdjust="spacingAndGlyphs">Mean prediction score</text>
<text x="358.00" y="222.50" text-anchor="middle" font-size="6.6" font-weight="normal" fill="#3a3a3a" transform="rotate(-90 358.00 222.50)" textLength="34.19999999999999" lengthAdjust="spacingAndGlyphs">SA - non SA</text>
<line x1="561.50" y1="258.20" x2="683.00" y2="258.20" stroke="#d89090" stroke-width="0.9" stroke-dasharray="1 1"/>
<line x1="566.50" y1="258.20" x2="566.50" y2="239.10" stroke="#9a9a9a" stroke-width="1.1"/>
<line x1="577.50" y1="258.20" x2="577.50" y2="209.80" stroke="#9a9a9a" stroke-width="1.1"/>
<line x1="588.50" y1="258.20" x2="588.50" y2="209.40" stroke="#b6b6b6" stroke-width="1.1"/>
<line x1="600.00" y1="258.20" x2="600.00" y2="215.20" stroke="#505050" stroke-width="1.4"/>
<line x1="611.50" y1="258.20" x2="611.50" y2="209.40" stroke="#9a9a9a" stroke-width="1.1"/>
<line x1="622.50" y1="258.20" x2="622.50" y2="172.10" stroke="#9a9a9a" stroke-width="1.1"/>
<line x1="633.50" y1="258.20" x2="633.50" y2="222.30" stroke="#6a6a6a" stroke-width="1.1"/>
<line x1="644.50" y1="258.20" x2="644.50" y2="221.80" stroke="#b6b6b6" stroke-width="1.1"/>
<line x1="656.50" y1="258.20" x2="656.50" y2="272.50" stroke="#6a6a6a" stroke-width="1.1"/>
<line x1="667.50" y1="258.20" x2="667.50" y2="239.60" stroke="#6a6a6a" stroke-width="1.1"/>
<line x1="678.50" y1="258.20" x2="678.50" y2="222.30" stroke="#b6b6b6" stroke-width="1.1"/>
<rect x="561.50" y="167.70" width="121.50" height="108.60" fill="none" stroke="#727272" stroke-width="0.9"/>
<line x1="559.60" y1="258.20" x2="561.50" y2="258.20" stroke="#727272" stroke-width="0.8"/>
<text x="556.30" y="260.65" text-anchor="end" font-size="7.1" font-weight="normal" fill="#3a3a3a" textLength="3.67" lengthAdjust="spacingAndGlyphs">0</text>
<line x1="559.60" y1="238.85" x2="561.50" y2="238.85" stroke="#727272" stroke-width="0.8"/>
<text x="556.30" y="241.30" text-anchor="end" font-size="7.1" font-weight="normal" fill="#3a3a3a" textLength="16.51" lengthAdjust="spacingAndGlyphs">0.001</text>
<line x1="559.60" y1="219.50" x2="561.50" y2="219.50" stroke="#727272" stroke-width="0.8"/>
<text x="556.30" y="221.95" text-anchor="end" font-size="7.1" font-weight="normal" fill="#3a3a3a" textLength="16.51" lengthAdjust="spacingAndGlyphs">0.002</text>
<line x1="559.60" y1="200.15" x2="561.50" y2="200.15" stroke="#727272" stroke-width="0.8"/>
<text x="556.30" y="202.60" text-anchor="end" font-size="7.1" font-weight="normal" fill="#3a3a3a" textLength="16.51" lengthAdjust="spacingAndGlyphs">0.003</text>
<line x1="559.60" y1="180.80" x2="561.50" y2="180.80" stroke="#727272" stroke-width="0.8"/>
<text x="556.30" y="183.25" text-anchor="end" font-size="7.1" font-weight="normal" fill="#3a3a3a" textLength="16.51" lengthAdjust="spacingAndGlyphs">0.004</text>
<line x1="577.50" y1="276.30" x2="577.50" y2="278.30" stroke="#727272" stroke-width="0.8"/>
<text x="577.80" y="287.20" text-anchor="middle" font-size="7.1" font-weight="normal" fill="#3a3a3a" textLength="7.34" lengthAdjust="spacingAndGlyphs">10</text>
<line x1="600.50" y1="276.30" x2="600.50" y2="278.30" stroke="#727272" stroke-width="0.8"/>
<text x="600.80" y="287.20" text-anchor="middle" font-size="7.1" font-weight="normal" fill="#3a3a3a" textLength="7.34" lengthAdjust="spacingAndGlyphs">12</text>
<line x1="622.50" y1="276.30" x2="622.50" y2="278.30" stroke="#727272" stroke-width="0.8"/>
<text x="622.80" y="287.20" text-anchor="middle" font-size="7.1" font-weight="normal" fill="#3a3a3a" textLength="7.34" lengthAdjust="spacingAndGlyphs">14</text>
<line x1="644.50" y1="276.30" x2="644.50" y2="278.30" stroke="#727272" stroke-width="0.8"/>
<text x="644.80" y="287.20" text-anchor="middle" font-size="7.1" font-weight="normal" fill="#3a3a3a" textLength="7.34" lengthAdjust="spacingAndGlyphs">16</text>
<line x1="667.50" y1="276.30" x2="667.50" y2="278.30" stroke="#727272" stroke-width="0.8"/>
<text x="667.80" y="287.20" text-anchor="middle" font-size="7.1" font-weight="normal" fill="#3a3a3a" textLength="7.34" lengthAdjust="spacingAndGlyphs">18</text>
<text x="621.95" y="298.90" text-anchor="middle" font-size="6.6" font-weight="normal" fill="#3a3a3a" textLength="76.89999999999998" lengthAdjust="spacingAndGlyphs">CTQ physical abuse score</text>
<text x="528.10" y="214.40" text-anchor="middle" font-size="6.6" font-weight="bold" fill="#3a3a3a" transform="rotate(-90 528.10 214.40)" textLength="65.6" lengthAdjust="spacingAndGlyphs">Mean prediction score</text>
<text x="534.60" y="215.40" text-anchor="middle" font-size="6.6" font-weight="normal" fill="#3a3a3a" transform="rotate(-90 534.60 215.40)" textLength="33.19999999999999" lengthAdjust="spacingAndGlyphs">SA - non SA</text>
</g>
</svg>
</body></html>
